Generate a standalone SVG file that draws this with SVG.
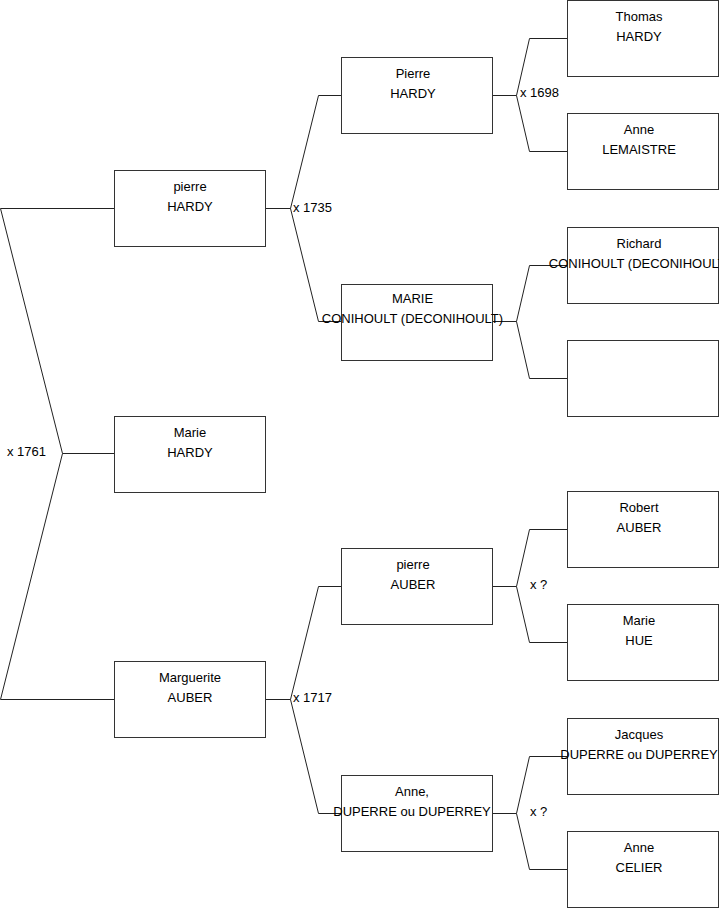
<svg xmlns="http://www.w3.org/2000/svg" width="719" height="908" viewBox="0 0 719 908">
<style>
.box{fill:#fff;stroke:#333;stroke-width:1}
.t{font-family:"Liberation Sans",Arial,sans-serif;font-size:13px;fill:#000;text-anchor:middle}
.l{font-family:"Liberation Sans",Arial,sans-serif;font-size:13px;fill:#000}
.c{fill:none;stroke:#222;stroke-width:1}
</style>
<rect width="719" height="908" fill="#fff"/>
<g id="connectors">
<path class="c" d="M114.5,208.5H0.5L62.5,453.5L0.5,699.5H114.5M62.5,453.5H114.5"/>
<path class="c" d="M265.5,208.5H290.5M341.5,95.5H318.5L290.5,208.5L318.5,321.5H341.5"/>
<path class="c" d="M265.5,699.5H290.5M341.5,586.5H318.5L290.5,699.5L318.5,813.5H341.5"/>
<path class="c" d="M492.5,95.5H516.5M567.5,38.5H529.5L516.5,95.5L529.5,151.5H567.5"/>
<path class="c" d="M492.5,321.5H516.5M567.5,265.5H529.5L516.5,321.5L529.5,378.5H567.5"/>
<path class="c" d="M492.5,586.5H516.5M567.5,529.5H529.5L516.5,586.5L529.5,642.5H567.5"/>
<path class="c" d="M492.5,813.5H516.5M567.5,756.5H529.5L516.5,813.5L529.5,869.5H567.5"/>
</g>
<g id="n-pierre-hardy"><rect class="box" x="114.5" y="170.5" width="151" height="76"/><text class="t" x="190" y="191">pierre</text><text class="t" x="190" y="211">HARDY</text></g>
<g id="n-marie-hardy"><rect class="box" x="114.5" y="416.5" width="151" height="76"/><text class="t" x="190" y="437">Marie</text><text class="t" x="190" y="457">HARDY</text></g>
<g id="n-marguerite-auber"><rect class="box" x="114.5" y="661.5" width="151" height="76"/><text class="t" x="190" y="682">Marguerite</text><text class="t" x="190" y="702">AUBER</text></g>
<g id="n-pierre-hardy-2"><rect class="box" x="341.5" y="57.5" width="151" height="76"/><text class="t" x="413" y="78">Pierre</text><text class="t" x="413" y="98">HARDY</text></g>
<g id="n-marie-conihoult"><rect class="box" x="341.5" y="284.5" width="151" height="76"/><text class="t" x="412.5" y="303">MARIE</text><text class="t" x="412.5" y="323">CONIHOULT (DECONIHOULT)</text></g>
<g id="n-pierre-auber"><rect class="box" x="341.5" y="548.5" width="151" height="76"/><text class="t" x="413" y="569">pierre</text><text class="t" x="413" y="589">AUBER</text></g>
<g id="n-anne-duperre"><rect class="box" x="341.5" y="775.5" width="151" height="76"/><text class="t" x="412" y="796">Anne,</text><text class="t" x="412" y="816">DUPERRE ou DUPERREY</text></g>
<g id="n-thomas-hardy"><rect class="box" x="567.5" y="0.5" width="151" height="76"/><text class="t" x="639" y="21">Thomas</text><text class="t" x="639" y="41">HARDY</text></g>
<g id="n-anne-lemaistre"><rect class="box" x="567.5" y="113.5" width="151" height="76"/><text class="t" x="639" y="134">Anne</text><text class="t" x="639" y="154">LEMAISTRE</text></g>
<g id="n-richard"><rect class="box" x="567.5" y="227.5" width="151" height="76"/><text class="t" x="639" y="248">Richard</text><text class="t" x="639.5" y="268">CONIHOULT (DECONIHOULT)</text></g>
<g id="n-empty"><rect class="box" x="567.5" y="340.5" width="151" height="76"/></g>
<g id="n-robert-auber"><rect class="box" x="567.5" y="491.5" width="151" height="76"/><text class="t" x="639" y="512">Robert</text><text class="t" x="639" y="532">AUBER</text></g>
<g id="n-marie-hue"><rect class="box" x="567.5" y="604.5" width="151" height="76"/><text class="t" x="639" y="625">Marie</text><text class="t" x="639" y="645">HUE</text></g>
<g id="n-jacques"><rect class="box" x="567.5" y="718.5" width="151" height="76"/><text class="t" x="639" y="739">Jacques</text><text class="t" x="639" y="759">DUPERRE ou DUPERREY</text></g>
<g id="n-anne-celier"><rect class="box" x="567.5" y="831.5" width="151" height="76"/><text class="t" x="639" y="852">Anne</text><text class="t" x="639" y="872">CELIER</text></g>
<g id="labels">
<text class="l" x="7" y="456">x 1761</text>
<text class="l" x="293" y="212">x 1735</text>
<text class="l" x="520" y="97">x 1698</text>
<text class="l" x="293" y="702">x 1717</text>
<text class="l" x="530" y="589">x ?</text>
<text class="l" x="530" y="816">x ?</text>
</g>
</svg>
